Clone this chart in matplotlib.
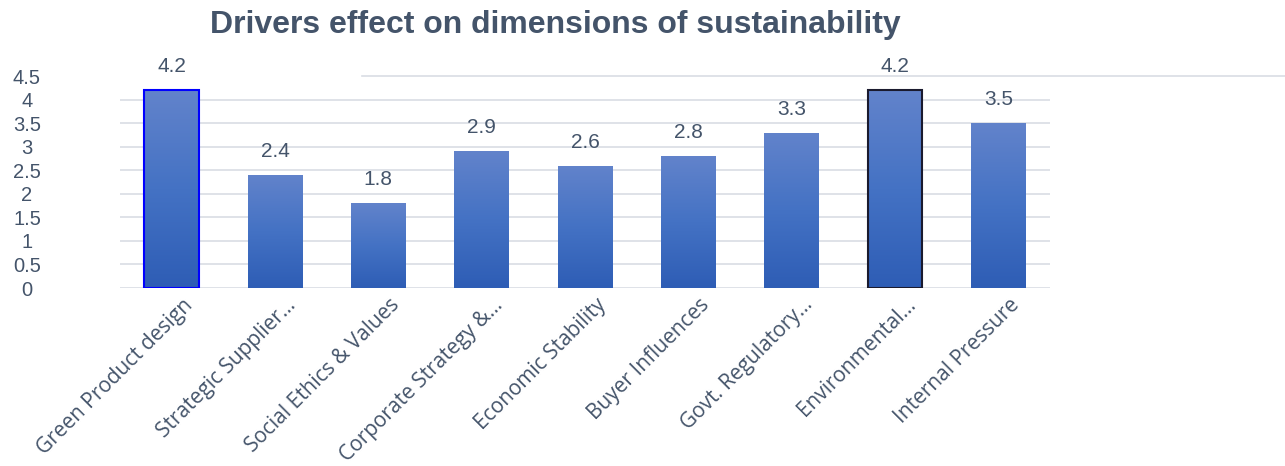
import matplotlib.pyplot as plt
import numpy as np
from matplotlib.colors import LinearSegmentedColormap
from matplotlib.transforms import ScaledTranslation

categories = ['Green Product design', 'Strategic Supplier…', 'Social Ethics & Values',
              'Corporate Strategy &…', 'Economic Stability', 'Buyer Influences',
              'Govt. Regulatory…', 'Environmental…', 'Internal Pressure']
values = [4.2, 2.4, 1.8, 2.9, 2.6, 2.8, 3.3, 4.2, 3.5]
yticks = [0, 0.5, 1, 1.5, 2, 2.5, 3, 3.5, 4, 4.5]
ytick_labels = ['0', '0.5', '1', '1.5', '2', '2.5', '3', '3.5', '4', '4.5']
edge_colors = ['#0000ff', None, None, None, None, None, None, '#1a1a2e', None]

text_col = '#44546a'
grad = LinearSegmentedColormap.from_list('g', ['#2e5db5', '#4472c4', '#6283cb'])

fig = plt.figure(figsize=(12.85, 4.66), dpi=100)
ax = fig.add_axes([120/1285, 1-288/466, 930/1285, (288-76)/466])

x = np.arange(len(values))
bars = ax.bar(x, values, width=0.53, color='none', zorder=3)
ax.set_xlim(-0.5, len(values)-0.5)
ax.set_ylim(0, 4.5)

# gradient fill per bar
img = np.linspace(0, 1, 256).reshape(-1, 1)
for b, ec in zip(bars, edge_colors):
    bx, by = b.get_x(), b.get_y()
    w, h = b.get_width(), b.get_height()
    im = ax.imshow(img, cmap=grad, aspect='auto', origin='lower',
                   extent=[bx, bx+w, 0, h], zorder=3)
    im.set_clip_path(b)
    if ec is not None:
        b.set_edgecolor(ec)
        b.set_linewidth(1.5)
        b.set_zorder(4)

for xi, v in zip(x, values):
    ax.annotate('{0}'.format(v), (xi, v), xytext=(0, 10), textcoords='offset points',
                ha='center', va='bottom', fontsize=15, color=text_col,
                family='Liberation Sans')

ax.set_yticks(yticks)
ax.set_yticklabels(ytick_labels, fontsize=14.5, color=text_col, family='Liberation Sans',
                   ha='center')
ax.tick_params(axis='y', length=0, pad=67)
ax.set_xticks(x)
ax.set_xticklabels(categories, rotation=45, ha='right', va='center', rotation_mode='anchor',
                   fontsize=15, color=text_col, family='Open Sans')
ax.tick_params(axis='x', length=0, pad=10)
shift = ScaledTranslation(18/100, 0, fig.dpi_scale_trans)
for lbl in ax.get_xticklabels():
    lbl.set_transform(lbl.get_transform() + shift)

ax.grid(axis='y', color='#d9dde4', linewidth=1.2, zorder=0)
ax.set_axisbelow(True)
for s in ax.spines.values():
    s.set_visible(False)
# hide the top grid line inside axes; a longer line is drawn at that level instead
ax.get_ygridlines()[-1].set_visible(False)
fig.add_artist(plt.Line2D([362/1285, 1.0], [1-76/466, 1-76/466], color='#d9dde4',
                          linewidth=1.2, transform=fig.transFigure))

fig.text(555/1285, 1-25/466, 'Drivers effect on dimensions of sustainability',
         ha='center', va='center', fontsize=23, fontweight='bold', color=text_col,
         family='Liberation Sans')

plt.savefig('out.png', dpi=100)
plt.close(fig)
